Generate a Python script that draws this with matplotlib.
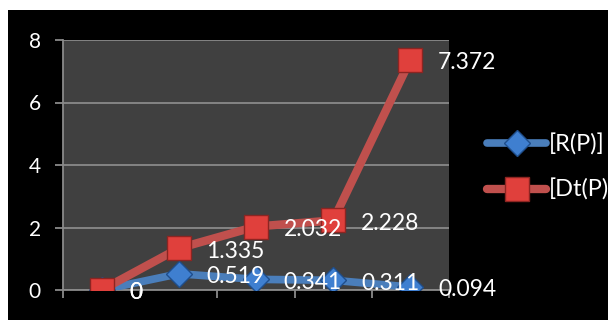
import matplotlib.pyplot as plt
from matplotlib.patches import Rectangle

# data
categories = [1, 2, 3, 4, 5]
r_vals = [0, 0.519, 0.341, 0.311, 0.094]
dt_vals = [0, 1.335, 2.032, 2.228, 7.372]
series_names = ['[R(P)]', '[Dt(P)]']
y_ticks = [0, 2, 4, 6, 8]

plt.rcParams['font.family'] = ['Lato', 'DejaVu Sans']

fig = plt.figure(figsize=(6.08, 3.2), dpi=100, facecolor='white')
# black chart area, white strip at top and left
fig.patches.append(Rectangle((8 / 608, 0), 1, 310 / 320, transform=fig.transFigure,
                             facecolor='black', edgecolor='none', zorder=-5))

ax = fig.add_axes([63 / 608, 30 / 320, 386 / 608, 250 / 320])
ax.set_facecolor('#404040')

blue = '#4A7EBB'
red = '#C0504D'
ax.plot(categories, r_vals, color=blue, lw=5.5, marker='D', markersize=13,
        markerfacecolor='#3F7FD0', markeredgecolor='#1F4E8C', markeredgewidth=1,
        solid_capstyle='round', label=series_names[0], zorder=3)
ax.plot(categories, dt_vals, color=red, lw=6, marker='s', markersize=17,
        markerfacecolor='#E0403C', markeredgecolor='#8C2522', markeredgewidth=1,
        solid_capstyle='round', label=series_names[1], zorder=4)

# data labels right of each point
for vals in (r_vals, dt_vals):
    for x, v in zip(categories, vals):
        ax.annotate(f'{v:g}', (x, v), xytext=(20, -2), textcoords='offset points',
                    ha='left', va='center', color='white', fontsize=16.5, zorder=6,
                    annotation_clip=False)

ax.set_xlim(0.5, 5.5)
ax.set_ylim(0, 8)
ax.set_yticks(y_ticks)
ax.set_xticks([c - 0.5 for c in categories] + [5.5])
ax.set_xticklabels([])
ax.grid(axis='y', color='#8a8a8a', lw=1.3)
ax.set_axisbelow(True)
for side in ('top', 'right'):
    ax.spines[side].set_visible(False)
for side in ('left', 'bottom'):
    ax.spines[side].set_color('#8a8a8a')
    ax.spines[side].set_linewidth(1.3)
ax.tick_params(axis='y', colors='#8a8a8a', labelcolor='white', labelsize=15,
               length=6, width=1.3, pad=10)
ax.tick_params(axis='x', colors='#8a8a8a', length=6, width=1.3)

leg = ax.legend(loc='center left', bbox_to_anchor=(487 / 608, 153 / 320),
                bbox_transform=fig.transFigure, frameon=False, fontsize=17,
                labelcolor='white', handlelength=2.5, handletextpad=0.12,
                labelspacing=1.0, borderpad=0, borderaxespad=0)

fig.savefig('out.png', dpi=100, facecolor=fig.get_facecolor())
